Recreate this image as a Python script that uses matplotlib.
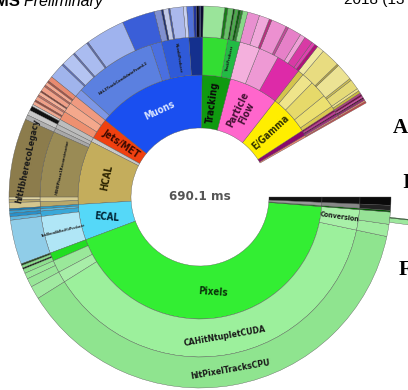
import numpy as np
import matplotlib
matplotlib.use("Agg")
import matplotlib.pyplot as plt

# ---------------- data (ms) ----------------
total_label = "690.1 ms"

# level-1 groups, counter-clockwise from 3 o'clock (None colour = not drawn)
l1_labels = ["", "", "", "E/Gamma", "Particle\nFlow", "Tracking", "Muons", "Jets/MET",
             "", "HCAL", "ECAL", "Pixels", "", "", ""]
l1_values = [56.6, 1.9, 4.8, 36.4, 45.1, 25.9, 99.7, 19.2, 3.8, 58.5, 32.6, 297.1, 1.0, 2.9, 4.8]
l1_colors = [None, "#e8826e", "#8b0a6b", "#ffee00", "#ff66cc", "#109a10", "#1a4ff0", "#f04010",
             "#c8c8c8", "#c4ad5c", "#55d8f8", "#33ee33", "#117711", "#999999", "#111111"]

# level-2 slices per group
l2_values = [
    [56.6],
    [1.0, 0.9],
    [1.2, 1.0, 1.4, 1.2],
    [3.0, 9.0, 12.0, 8.4, 4.0],
    [17.0, 14.0, 14.1],
    [8.6, 17.3],
    [9.6, 19.2, 7.7, 57.5, 5.7],
    [6.0, 7.0, 6.2],
    [3.8],
    [3.0, 2.8, 46.0, 3.2, 3.5],
    [1.5, 1.5, 3.7, 25.9],
    [5.8, 8.6, 7.7, 260.8, 14.2],
    [1.0],
    [2.9],
    [4.8],
]
l2_colors = [
    [None],
    ["#d05050", "#f09080"],
    ["#aa2288", "#660044", "#cc3399", "#880055"],
    ["#d9c850", "#ece070", "#e6d96a", "#efe48a", "#d4c44c"],
    ["#dd2aa8", "#ee99d4", "#f4b0dd"],
    ["#22bb44", "#33dd33"],
    ["#14308e", "#2f5ad8", "#4a6fe0", "#5b80e0", "#7d97e6"],
    ["#f09a80", "#f4a88c", "#ee9070"],
    ["#bdbdbd"],
    ["#b8b8b8", "#a8a8a8", "#9a8b55", "#d8ca90", "#b8a86a"],
    ["#2a9ccc", "#5ab8e0", "#3aa8d8", "#b0e6f6"],
    ["#22dd22", "#9ae89a", "#a8eea8", "#9cf09c", "#a8f0a8"],
    ["#006600"],
    ["#888888"],
    ["#111111"],
]

# level-3 slices per group
l3_values = [
    [56.6],
    [1.0, 0.9],
    [1.0, 0.8, 1.0, 1.0, 1.0],
    [1.5, 1.5, 6.0, 1.2, 10.0, 1.0, 11.0, 4.2],
    [2.0, 2.0, 5.0, 3.0, 8.0, 1.5, 9.0, 1.6, 6.0, 7.0],
    [2.9, 1.2, 1.5, 2.0, 1.0, 3.0, 1.9, 12.4],
    [1.5, 1.0, 1.5, 1.8, 3.8, 2.0, 7.7, 1.0, 3.0, 1.2, 4.0, 19.2, 23.0, 1.0, 9.0, 1.0, 8.0, 1.0, 9.0],
    [3.0, 1.0, 2.0, 1.0, 3.0, 0.8, 2.0, 1.0, 2.4, 1.0, 2.0],
    [1.2, 2.6],
    [3.0, 2.8, 46.0, 1.5, 1.7, 3.5],
    [1.2, 1.5, 2.0, 2.0, 25.9],
    [1.0, 1.5, 0.8, 2.5, 3.5, 5.1, 7.7, 260.8, 7.1, 7.1],
    [1.0],
    [2.9],
    [4.8],
]
l3_colors = [
    [None],
    ["#cc4444", "#e88870"],
    ["#992277", "#550033", "#dd44aa", "#770044", "#bb3388"],
    ["#c8b840", "#eee28a", "#e5da78", "#cfc050", "#ece394", "#bbaa44", "#e8dc80", "#f0e8a0"],
    ["#b0107a", "#e040b0", "#d83aa5", "#f0a0d8", "#e680c8", "#c04a98", "#ec90d0", "#b8307f",
     "#f0a8da", "#e890d0"],
    ["#88d888", "#2a8a2a", "#0f5f0f", "#4caa4c", "#0a4a0a", "#66c066", "#1a7a1a", "#9ae49a"],
    ["#0a0a30", "#1a2a70", "#050515", "#223399", "#5070d8", "#c8d0f0", "#aab8ec", "#4458a8",
     "#c0c8e8", "#203070", "#8090d0", "#3a5ed8", "#9fb3ee", "#5a6ab0", "#aabcf0", "#6070b8",
     "#b4c4f2", "#5c70c8", "#a0b4ec"],
    ["#e88a70", "#b05040", "#f4a890", "#c06050", "#f0a088", "#903828", "#f4b098", "#d07060",
     "#eea088", "#a04838", "#f0a890"],
    ["#cccccc", "#111111"],
    ["#c8c8c8", "#b0b0b0", "#8c7c4c", "#e0d4a0", "#b4a46a", "#d4c68e"],
    ["#1a7ab0", "#3aa0d0", "#2a90c8", "#60b8e0", "#90cde8"],
    ["#224422", "#88dd88", "#112211", "#8ee08e", "#9ae89a", "#98e698", "#a0eaa0", "#8fe48f",
     "#a0eca0", "#96e296"],
    ["#005500"],
    ["#222222"],
    ["#0a0a0a"],
]

# level-4 (only one visible strip)
l4_values = {11: [291.2, 2.5, 0.4, 3.0]}
l4_colors = {11: [None, "#9ee89e", "#1a7a1a", None]}

# named inner-ring labels: (level, group, slice index, text, orientation, fontsize)
sub_labels = [
    (2, 11, 3, "CAHitNtupletCUDA", "tan", 6.3),
    (3, 11, 7, "hltPixelTracksCPU", "tan", 6.3),
    (2, 11, 4, "Conversion", "rad", 5.0),
    (3, 9, 2, "hltHbherecoLegacy", "tan", 6.3),
    (2, 9, 2, "HBHEPhase1Reconstructor", "tan", 3.0),
    (2, 10, 3, "EcalUncalibRecHitProducer", "rad", 2.3),
    (2, 6, 3, "hltL3TrackCandidateFromL2", "tan", 3.0),
    (2, 6, 1, "MuonIdProducer", "rad", 2.6),
    (2, 5, 0, "TrackProducer", "rad", 2.6),
]
l1_orient = ["", "", "", "rad", "rad", "rad", "tan", "rad", "", "tan", -5, -4, "", "", ""]
l1_textcol = ["k", "k", "k", "#333300", "#441133", "#0a0a0a", "#d8e4ff", "#3a0a00",
              "k", "#2a2200", "#002233", "#0a300a", "k", "k", "k"]

# ---------------- layout ----------------
W, H = 408, 390
cx, cy = 200, 197
radii = [69, 122, 160, 191, 217]
Rmax = radii[-1]

fig = plt.figure(figsize=(W / 100, H / 100), dpi=100)
ax = fig.add_axes([(cx - Rmax) / W, (H - cy - Rmax) / H, 2 * Rmax / W, 2 * Rmax / H],
                  projection="polar")
ax.set_ylim(0, Rmax)
ax.set_axis_off()

cond = ["Liberation Sans Narrow", "DejaVu Sans"]
k = 360.0 / sum(l1_values)
starts = np.concatenate([[0], np.cumsum(l1_values)[:-1]]) * k


def slices(vals_by_group, cols_by_group):
    out = {}
    keys = vals_by_group.keys() if isinstance(vals_by_group, dict) else range(len(vals_by_group))
    for g in keys:
        a = starts[g]
        lst = []
        for v, c in zip(vals_by_group[g], cols_by_group[g]):
            w = v * k
            lst.append((a, w, c))
            a += w
        out[g] = lst
    return out


def draw(sl, r0, r1):
    th, wd, cl = [], [], []
    for g, lst in sl.items():
        for a, w, c in lst:
            if c is None:
                continue
            th.append(np.deg2rad(a + w / 2)); wd.append(np.deg2rad(w)); cl.append(c)
    ax.bar(th, r1 - r0, width=wd, bottom=r0, color=cl, edgecolor="#505050",
           linewidth=0.25, align="center")


def rot(angle, orient):
    if not isinstance(orient, str):
        return orient
    r = angle - 90 if orient == "tan" else angle
    r = (r + 180) % 360 - 180
    if r > 90:
        r -= 180
    if r < -90:
        r += 180
    return r


l1 = {g: [(starts[g], l1_values[g] * k, l1_colors[g])] for g in range(len(l1_values))}
l2 = slices(l2_values, l2_colors)
l3 = slices(l3_values, l3_colors)
l4 = slices(l4_values, l4_colors)
draw(l1, radii[0], radii[1])
draw(l2, radii[1], radii[2])
draw(l3, radii[2], radii[3])
draw(l4, radii[3], radii[4])

for g, lab in enumerate(l1_labels):
    if not lab:
        continue
    a = starts[g] + l1_values[g] * k / 2
    ax.text(np.deg2rad(a), (radii[0] + radii[1]) / 2, lab, rotation=rot(a, l1_orient[g]),
            rotation_mode="anchor", ha="center", va="center", fontsize=7,
            fontweight="bold", family=cond, fontstretch="condensed",
            color=l1_textcol[g], linespacing=0.95)

levels = {2: l2, 3: l3}
for lev, g, i, txt, orient, fs in sub_labels:
    a0, w, _ = levels[lev][g][i]
    a = a0 + w / 2
    r = (radii[lev - 1] + radii[lev]) / 2
    ax.text(np.deg2rad(a), r, txt, rotation=rot(a, orient), rotation_mode="anchor",
            ha="center", va="center", fontsize=fs, fontweight="bold", family=cond,
            fontstretch="condensed", color="#1a1a1a")

ax.text(0, 0, total_label, ha="center", va="center", fontsize=9.5, fontweight="bold",
        family=cond, fontstretch="condensed", color="#555555")

# header / slide remnants
fig.text(20 / W, 1 - 6 / H, "CMS", ha="right", va="baseline", fontsize=12, fontweight="bold",
         family=["Liberation Sans", "DejaVu Sans"])
fig.text(23 / W, 1 - 6 / H, "Preliminary", ha="left", va="baseline", fontsize=11.5,
         style="italic", family=["Liberation Sans", "DejaVu Sans"])
fig.text(344 / W, 1 - 4 / H, "2018 (13 TeV)", ha="left", va="baseline", fontsize=11,
         family=["Liberation Sans", "DejaVu Sans"])
for x, y, s in [(393, 133, "A"), (402, 188, "I"), (399, 275, "F")]:
    fig.text(x / W, 1 - y / H, s, ha="left", va="baseline", fontsize=15, fontweight="bold",
             family=["Liberation Serif", "DejaVu Serif"])

fig.savefig("out.png", dpi=100, facecolor="white")
